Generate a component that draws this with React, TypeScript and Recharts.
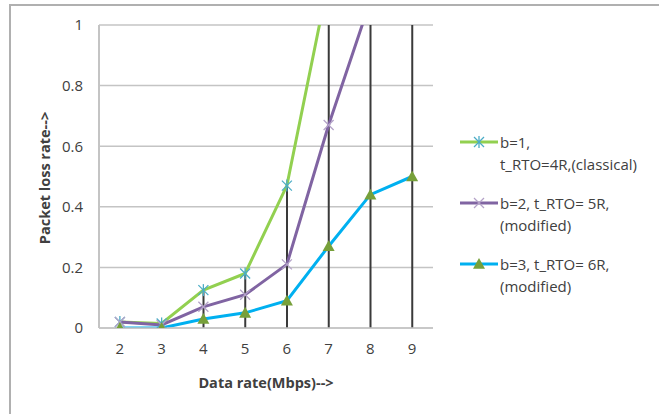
import { ComposedChart, Line, Bar, XAxis, YAxis, CartesianGrid } from 'recharts'

const rates = ['2', '3', '4', '5', '6', '7', '8', '9']
const classical = [0.02, 0.015, 0.125, 0.18, 0.47, 1.15, 1.6, 2.0]
const modified5R = [0.02, 0.01, 0.07, 0.11, 0.21, 0.67, 1.08, 1.4]
const modified6R = [0.0, 0.0, 0.03, 0.05, 0.09, 0.27, 0.44, 0.5]
const yTicks = [0, 0.2, 0.4, 0.6, 0.8, 1]

const legendRows = [
  { key: 'b1', color: '#92D050', marker: 'star', lines: ['b=1,', 't_RTO=4R,(classical)'] },
  { key: 'b2', color: '#8064A2', marker: 'x', lines: ['b=2, t_RTO= 5R,', '(modified)'] },
  { key: 'b3', color: '#00B0F0', marker: 'tri', lines: ['b=3, t_RTO= 6R,', '(modified)'] },
]

const data = rates.map((r, i) => ({
  rate: r,
  b1: classical[i],
  b2: modified5R[i],
  b3: modified6R[i],
  drop: Math.max(classical[i], modified5R[i], modified6R[i]),
}))

const FONT = '"Open Sans", Lato, sans-serif'

function StarMark({ cx, cy, color = '#4BACC6' }: any) {
  const s = 5
  return (
    <g stroke={color} strokeWidth={1.3}>
      <line x1={cx - s} y1={cy - s} x2={cx + s} y2={cy + s} />
      <line x1={cx - s} y1={cy + s} x2={cx + s} y2={cy - s} />
      <line x1={cx} y1={cy - s - 1} x2={cx} y2={cy + s + 1} />
    </g>
  )
}

function XMark({ cx, cy, color = '#B3A2C7' }: any) {
  const s = 5
  return (
    <g stroke={color} strokeWidth={1.3}>
      <line x1={cx - s} y1={cy - s} x2={cx + s} y2={cy + s} />
      <line x1={cx - s} y1={cy + s} x2={cx + s} y2={cy - s} />
    </g>
  )
}

function TriMark({ cx, cy }: any) {
  const s = 6
  return <path d={`M${cx},${cy - s} L${cx + s},${cy + s * 0.8} L${cx - s},${cy + s * 0.8} Z`} fill="#77A03A" />
}

function markerFor(m: string, cx: number, cy: number) {
  if (m === 'star') return <StarMark cx={cx} cy={cy} />
  if (m === 'x') return <XMark cx={cx} cy={cy} />
  return <TriMark cx={cx} cy={cy} />
}

function LegendBox() {
  return (
    <div style={{ position: 'absolute', left: 458, top: 131, width: 200, fontFamily: FONT, fontSize: 15, color: '#404040' }}>
      {legendRows.map(row => (
        <div key={row.key} style={{ display: 'flex', alignItems: 'flex-start', marginBottom: 17 }}>
          <svg width={42} height={22} style={{ flex: 'none' }}>
            <line x1={2} y1={11} x2={40} y2={11} stroke={row.color} strokeWidth={3} />
            {markerFor(row.marker, 21, 11)}
          </svg>
          <div style={{ lineHeight: '22px' }}>
            {row.lines.map(t => <div key={t}>{t}</div>)}
          </div>
        </div>
      ))}
    </div>
  )
}

export default function App() {
  return (
    <div style={{ position: 'fixed', left: 0, top: 0, width: 659, height: 414, background: '#fff' }}>
      <div style={{ position: 'absolute', left: 9, top: 4, width: 700, height: 500, borderTop: '2px solid #b0b0b0', borderLeft: '2px solid #b0b0b0' }} />
      <div style={{ position: 'absolute', left: 0, top: 0 }}>
        <ComposedChart width={659} height={414} data={data} margin={{ top: 25, right: 226, left: 0, bottom: 0 }}>
          <CartesianGrid vertical={false} stroke="#c4c4c4" strokeWidth={1.5} />
          <XAxis
            dataKey="rate"
            height={86}
            tickLine={false}
            tickSize={0}
            tickMargin={15}
            axisLine={{ stroke: '#c4c4c4', strokeWidth: 1.5 }}
            tick={{ fill: '#404040', fontSize: 15, fontFamily: FONT }}
            label={() => (
              <text x={266} y={388} textAnchor="middle" fill="#404040" fontFamily={FONT} fontSize={14.5} fontWeight="bold">
                Data rate(Mbps)--&gt;
              </text>
            )}
          />
          <YAxis
            width={99}
            domain={[0, 1]}
            ticks={yTicks}
            allowDataOverflow
            tickLine={false}
            tickSize={0}
            tickMargin={16}
            axisLine={{ stroke: '#c4c4c4', strokeWidth: 2 }}
            tick={{ fill: '#404040', fontSize: 15, fontFamily: FONT }}
            label={() => (
              <text x={50} y={178} transform="rotate(-90 50 178)" textAnchor="middle" fill="#404040" fontFamily={FONT} fontSize={14.5} fontWeight="bold">
                Packet loss rate--&gt;
              </text>
            )}
          />
          <Bar dataKey="drop" barSize={2} fill="#3a3a3a" isAnimationActive={false} />
          <Line dataKey="b1" stroke="#92D050" strokeWidth={3} isAnimationActive={false}
            dot={(p: any) => <StarMark key={p.index} cx={p.cx} cy={p.cy} />} />
          <Line dataKey="b2" stroke="#8064A2" strokeWidth={3} isAnimationActive={false}
            dot={(p: any) => <XMark key={p.index} cx={p.cx} cy={p.cy} />} />
          <Line dataKey="b3" stroke="#00B0F0" strokeWidth={3} isAnimationActive={false}
            dot={(p: any) => <TriMark key={p.index} cx={p.cx} cy={p.cy} />} />
        </ComposedChart>
      </div>
      <LegendBox />
    </div>
  )
}
